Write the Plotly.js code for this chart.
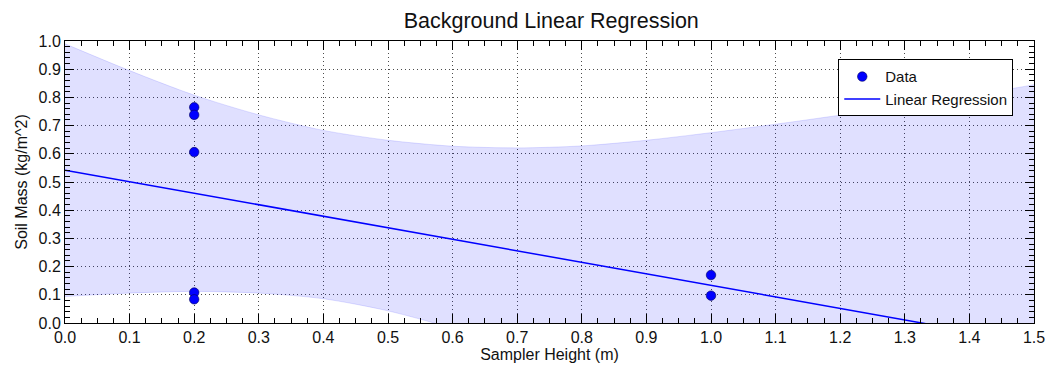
<!DOCTYPE html>
<html>
<head>
<meta charset="utf-8">
<script src="https://cdn.plot.ly/plotly-3.0.1.min.js"></script>
<style>html,body{margin:0;padding:0;background:#fff;}#chart{width:1048px;height:369px;}</style>
</head>
<body>
<div id="chart"></div>
<script>
// Observations
const dataX = [0.2, 0.2, 0.2, 0.2, 0.2, 1.0, 1.0];
const dataY = [0.765, 0.738, 0.606, 0.108, 0.084, 0.170, 0.097];

// Regression line endpoints
const lineX = [0.0, 1.5];
const lineY = [0.542, -0.071];

// Confidence band
const bandX = [0.0, 0.1, 0.2, 0.3, 0.4, 0.5, 0.6, 0.7, 0.8, 0.9, 1.0, 1.1, 1.2, 1.3, 1.4, 1.5];
const bandUpper = [0.990, 0.895, 0.808, 0.738, 0.683, 0.648, 0.627, 0.621, 0.628, 0.648, 0.675, 0.705, 0.737, 0.770, 0.805, 0.845];
const bandLower = [0.094, 0.106, 0.112, 0.106, 0.086, 0.043, -0.020, -0.105, -0.200, -0.300, -0.410, -0.520, -0.630, -0.740, -0.860, -0.980];

const xTicks = [0.0,0.1,0.2,0.3,0.4,0.5,0.6,0.7,0.8,0.9,1.0,1.1,1.2,1.3,1.4,1.5];
const yTicks = [0.0,0.1,0.2,0.3,0.4,0.5,0.6,0.7,0.8,0.9,1.0];

const bandColor = 'rgba(0,0,255,0.12)';
const font = 'Liberation Sans, Arial, sans-serif';

const traces = [
  {x: bandX, y: bandLower, type: 'scatter', mode: 'lines', line: {color: bandColor, width: 1, shape: 'spline', smoothing: 0.8}, showlegend: false, hoverinfo: 'skip'},
  {x: bandX, y: bandUpper, type: 'scatter', mode: 'lines', line: {color: bandColor, width: 1, shape: 'spline', smoothing: 0.8}, fill: 'tonexty', fillcolor: bandColor, showlegend: false, hoverinfo: 'skip'},
  {x: lineX, y: lineY, type: 'scatter', mode: 'lines', name: 'Linear Regression', line: {color: 'rgb(0,0,255)', width: 1.5}, legendrank: 2},
  {x: dataX, y: dataY, type: 'scatter', mode: 'markers', name: 'Data', marker: {color: 'rgb(0,0,255)', size: 9.5, line: {color: 'rgb(0,0,90)', width: 0.6}}, legendrank: 1}
];

const axisCommon = {
  showline: true, linecolor: 'black', linewidth: 1, mirror: 'ticks',
  ticks: 'inside', ticklen: 9, tickcolor: 'black', tickwidth: 1,
  showgrid: true, gridcolor: 'rgba(0,0,0,0.7)', griddash: '1px,3px', gridwidth: 1,
  zeroline: false, tickformat: '.1f',
  tickfont: {family: font, size: 16, color: '#111'}
};

const layout = {
  width: 1048, height: 369,
  margin: {l: 65, r: 14, t: 41, b: 46},
  paper_bgcolor: '#fff', plot_bgcolor: '#fff',
  font: {family: font, color: '#000'},
  title: {text: 'Background Linear Regression', font: {family: font, size: 21.5, color: '#111'}, x: 0.526, xanchor: 'center', y: 0.945, yanchor: 'middle'},
  xaxis: Object.assign({}, axisCommon, {
    range: [0, 1.5], tickvals: xTicks,
    minor: {dtick: 0.025, ticks: 'inside', ticklen: 5, tickcolor: 'black', showgrid: false},
    title: {text: 'Sampler Height (m)', font: {family: font, size: 16, color: '#111'}, standoff: 2}
  }),
  yaxis: Object.assign({}, axisCommon, {
    range: [0, 1.0], tickvals: yTicks,
    minor: {dtick: 0.02, ticks: 'inside', ticklen: 5, tickcolor: 'black', showgrid: false},
    title: {text: 'Soil Mass (kg/m^2)', font: {family: font, size: 16, color: '#111'}, standoff: 6}
  }),
  legend: {
    x: 0.798, y: 0.935, xanchor: 'left', yanchor: 'top',
    bgcolor: '#fff', bordercolor: '#000', borderwidth: 1,
    font: {family: font, size: 15, color: '#111'},
    traceorder: 'normal', tracegroupgap: 0, itemwidth: 36
  },
  showlegend: true
};

Plotly.newPlot('chart', traces, layout, {displayModeBar: false, staticPlot: true});
</script>
</body>
</html>
